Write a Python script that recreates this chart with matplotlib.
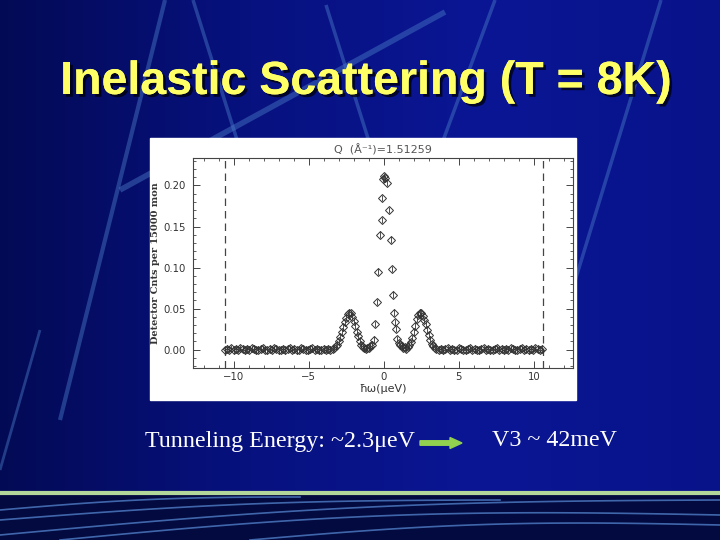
import numpy as np
import matplotlib
matplotlib.use("Agg")
import matplotlib.pyplot as plt
import matplotlib.patheffects as pe
from matplotlib.patches import Rectangle, FancyArrow
from matplotlib.ticker import MultipleLocator

# energy transfer (ueV) and detector counts
bg_left_x = [-10.60, -10.45, -10.30, -10.15, -10.00, -9.85, -9.70, -9.55, -9.40, -9.25,
             -9.10, -8.95, -8.80, -8.65, -8.50, -8.35, -8.20, -8.05, -7.90, -7.75,
             -7.60, -7.45, -7.30, -7.15, -7.00, -6.85, -6.70, -6.55, -6.40, -6.25,
             -6.10, -5.95, -5.80, -5.65, -5.50, -5.35, -5.20, -5.05, -4.90, -4.75,
             -4.60, -4.45, -4.30, -4.15, -4.00, -3.85, -3.70, -3.55]
bg_left_y = [0.000, 0.001, 0.000, 0.002, -0.001, 0.001, 0.000, 0.002, 0.001, -0.001,
             0.001, 0.000, 0.002, 0.001, -0.001, 0.000, 0.001, 0.002, 0.000, -0.001,
             0.001, 0.000, 0.002, 0.001, -0.001, 0.000, 0.001, -0.001, 0.001, 0.002,
             0.000, 0.001, -0.001, 0.000, 0.002, 0.001, 0.000, -0.001, 0.001, 0.002,
             0.000, 0.001, -0.001, 0.000, 0.001, 0.000, 0.001, 0.000]

peak_x = [-3.4, -3.3, -3.2, -3.1, -3.0, -2.9, -2.8, -2.7, -2.6, -2.5,
          -2.4, -2.3, -2.2, -2.1, -2.0, -1.9, -1.8, -1.7, -1.6, -1.5,
          -1.4, -1.3, -1.2, -1.1, -1.0, -0.9, -0.8, -0.67, -0.56, -0.44,
          -0.36, -0.27, -0.15, -0.11, -0.02, 0.03, 0.08, 0.23, 0.36, 0.45,
          0.52, 0.60, 0.67, 0.72, 0.78, 0.90, 1.0, 1.1, 1.2, 1.3,
          1.4, 1.5, 1.6, 1.7, 1.8, 1.9, 2.0, 2.1, 2.2, 2.3,
          2.4, 2.5, 2.6, 2.7, 2.8, 2.9, 3.0, 3.1, 3.2, 3.3,
          3.4, 3.5]
peak_y = [0.001, 0.002, 0.004, 0.006, 0.010, 0.015, 0.021, 0.027, 0.033, 0.039,
          0.043, 0.045, 0.044, 0.040, 0.035, 0.029, 0.022, 0.016, 0.010, 0.006,
          0.003, 0.002, 0.001, 0.002, 0.002, 0.004, 0.006, 0.012, 0.031, 0.058,
          0.095, 0.140, 0.158, 0.185, 0.208, 0.211, 0.209, 0.203, 0.170, 0.134,
          0.098, 0.067, 0.045, 0.033, 0.025, 0.013, 0.008, 0.005, 0.004, 0.002,
          0.003, 0.001, 0.003, 0.005, 0.009, 0.014, 0.021, 0.029, 0.037, 0.042,
          0.045, 0.044, 0.041, 0.036, 0.031, 0.024, 0.018, 0.012, 0.007, 0.004,
          0.002, 0.001]

bg_right_x = [3.65, 3.80, 3.95, 4.10, 4.25, 4.40, 4.55, 4.70, 4.85, 5.00,
              5.15, 5.30, 5.45, 5.60, 5.75, 5.90, 6.05, 6.20, 6.35, 6.50,
              6.65, 6.80, 6.95, 7.10, 7.25, 7.40, 7.55, 7.70, 7.85, 8.00,
              8.15, 8.30, 8.45, 8.60, 8.75, 8.90, 9.05, 9.20, 9.35, 9.50,
              9.65, 9.80, 9.95, 10.10, 10.25, 10.40, 10.55]
bg_right_y = [0.000, 0.001, -0.001, 0.001, 0.002, 0.000, 0.001, -0.001, 0.000, 0.002,
              0.001, 0.000, -0.001, 0.001, 0.002, 0.000, 0.001, 0.000, -0.001, 0.001,
              0.002, 0.000, 0.001, -0.001, 0.000, 0.001, 0.002, 0.000, 0.001, -0.001,
              0.001, 0.000, 0.002, 0.001, -0.001, 0.000, 0.001, 0.002, 0.000, 0.001,
              -0.001, 0.001, 0.000, 0.002, 0.001, 0.000, 0.001]

energy = np.array(bg_left_x + peak_x + bg_right_x)
counts = np.array(bg_left_y + peak_y + bg_right_y)
window = [-10.6, 10.6]

fig = plt.figure(figsize=(7.2, 5.4), dpi=100)

# slide background drawn in pixel coordinates
bg = fig.add_axes([0, 0, 1, 1])
bg.set_xlim(0, 720)
bg.set_ylim(540, 0)
bg.axis("off")

grad = np.linspace(0, 1, 256)[None, :]
cmap = matplotlib.colors.LinearSegmentedColormap.from_list(
    "slide", ["#030a55", "#07117e", "#0a1694", "#08138a"])
bg.imshow(grad, cmap=cmap, extent=[0, 720, 540, 0], aspect="auto", zorder=0)

streak = dict(color="#4a7cc8", alpha=0.45, solid_capstyle="butt", zorder=1)
bg.plot([165, 60], [0, 420], lw=3, **streak)
bg.plot([193, 300], [0, 340], lw=2.5, **streak)
bg.plot([326, 400], [5, 240], lw=2.5, **streak)
bg.plot([445, 120], [12, 190], lw=4, **streak)
bg.plot([495, 410], [0, 230], lw=2.5, **streak)
bg.plot([661, 560], [0, 330], lw=2.5, **streak)
bg.plot([40, 0], [330, 470], lw=2, **streak)

# lower band with sweeping streaks
bg.add_patch(Rectangle((0, 494), 720, 46, color="#030a40", zorder=2))
t = np.linspace(0, 1, 60)
for x0, y0, x1, y1, bend in [(0, 535, 720, 500, 10), (60, 540, 720, 515, 12),
                              (0, 520, 500, 500, 6), (250, 540, 720, 525, 8),
                              (0, 510, 300, 497, 4)]:
    xs = x0 + (x1 - x0) * t
    ys = y0 + (y1 - y0) * t - bend * np.sin(np.pi * t)
    bg.plot(xs, ys, color="#5a8ed8", lw=1.2, alpha=0.7, zorder=3)
bg.plot([0, 720], [493, 493], color="#b3d69a", lw=3, zorder=4)

# white panel for the plot
bg.add_patch(Rectangle((150, 138), 426, 262, color="white", zorder=5))

bg.text(366, 82, "Inelastic Scattering (T = 8K)", ha="center", va="center",
        fontsize=33.5, fontweight="bold", family="Liberation Sans", color="#ffff66",
        zorder=6, path_effects=[pe.withSimplePatchShadow(offset=(2, -2), shadow_rgbFace="black", alpha=0.7),
                                pe.Normal()])
bg.text(145, 441, "Tunneling Energy: ~2.3\u03bceV", ha="left", va="center",
        fontsize=17.3, family="Liberation Serif", color="white", zorder=6)
bg.text(492, 441, "V3 ~ 42meV", ha="left", va="center",
        fontsize=17.3, family="Liberation Serif", color="white", zorder=6)
bg.add_patch(FancyArrow(420, 443, 30, 0, width=4.5, head_width=11, head_length=12,
                        length_includes_head=False, color="#92d050", zorder=6))

# the spectrum itself
ax = fig.add_axes([0.2681, 0.3185, 0.5278, 0.3889])
ax.set_facecolor("white")
ax.errorbar(energy, counts, yerr=0.004, fmt="D", ms=4.5, mfc="none", mec="#333333",
            mew=0.7, ecolor="#333333", elinewidth=0.6, capsize=0, zorder=3)
for w in window:
    ax.axvline(w, color="#444444", lw=0.9, ls=(0, (6, 4)), zorder=2)

ax.set_xlim(-12.7, 12.6)
ax.set_ylim(-0.0225, 0.2335)
ax.xaxis.set_major_locator(MultipleLocator(5))
ax.xaxis.set_minor_locator(MultipleLocator(1))
ax.yaxis.set_major_locator(MultipleLocator(0.05))
ax.yaxis.set_minor_locator(MultipleLocator(0.01))
ax.yaxis.set_major_formatter(matplotlib.ticker.FormatStrFormatter("%.2f"))
ax.tick_params(which="both", direction="in", top=True, right=True,
               colors="#444444", labelsize=7.3, labelcolor="#333333")
ax.tick_params(which="major", length=5, width=0.7)
ax.tick_params(which="minor", length=2.5, width=0.6)
ax.tick_params(axis="y", pad=5)
ax.tick_params(axis="x", pad=3)
for s in ax.spines.values():
    s.set_color("#444444")
    s.set_linewidth(0.8)

ax.set_title("Q  (\u00c5\u207b\u00b9)=1.51259", fontsize=8, color="#555555", pad=3)
ax.set_xlabel("\u0127\u03c9(\u03bceV)", fontsize=8, color="#333333", labelpad=1)
ax.set_ylabel("Detector Cnts per 15000 mon", fontsize=7, color="#333333",
              family="DejaVu Serif", fontweight="bold")
ax.yaxis.set_label_coords(-0.086, 0.5)

fig.savefig("out.png", dpi=100)
